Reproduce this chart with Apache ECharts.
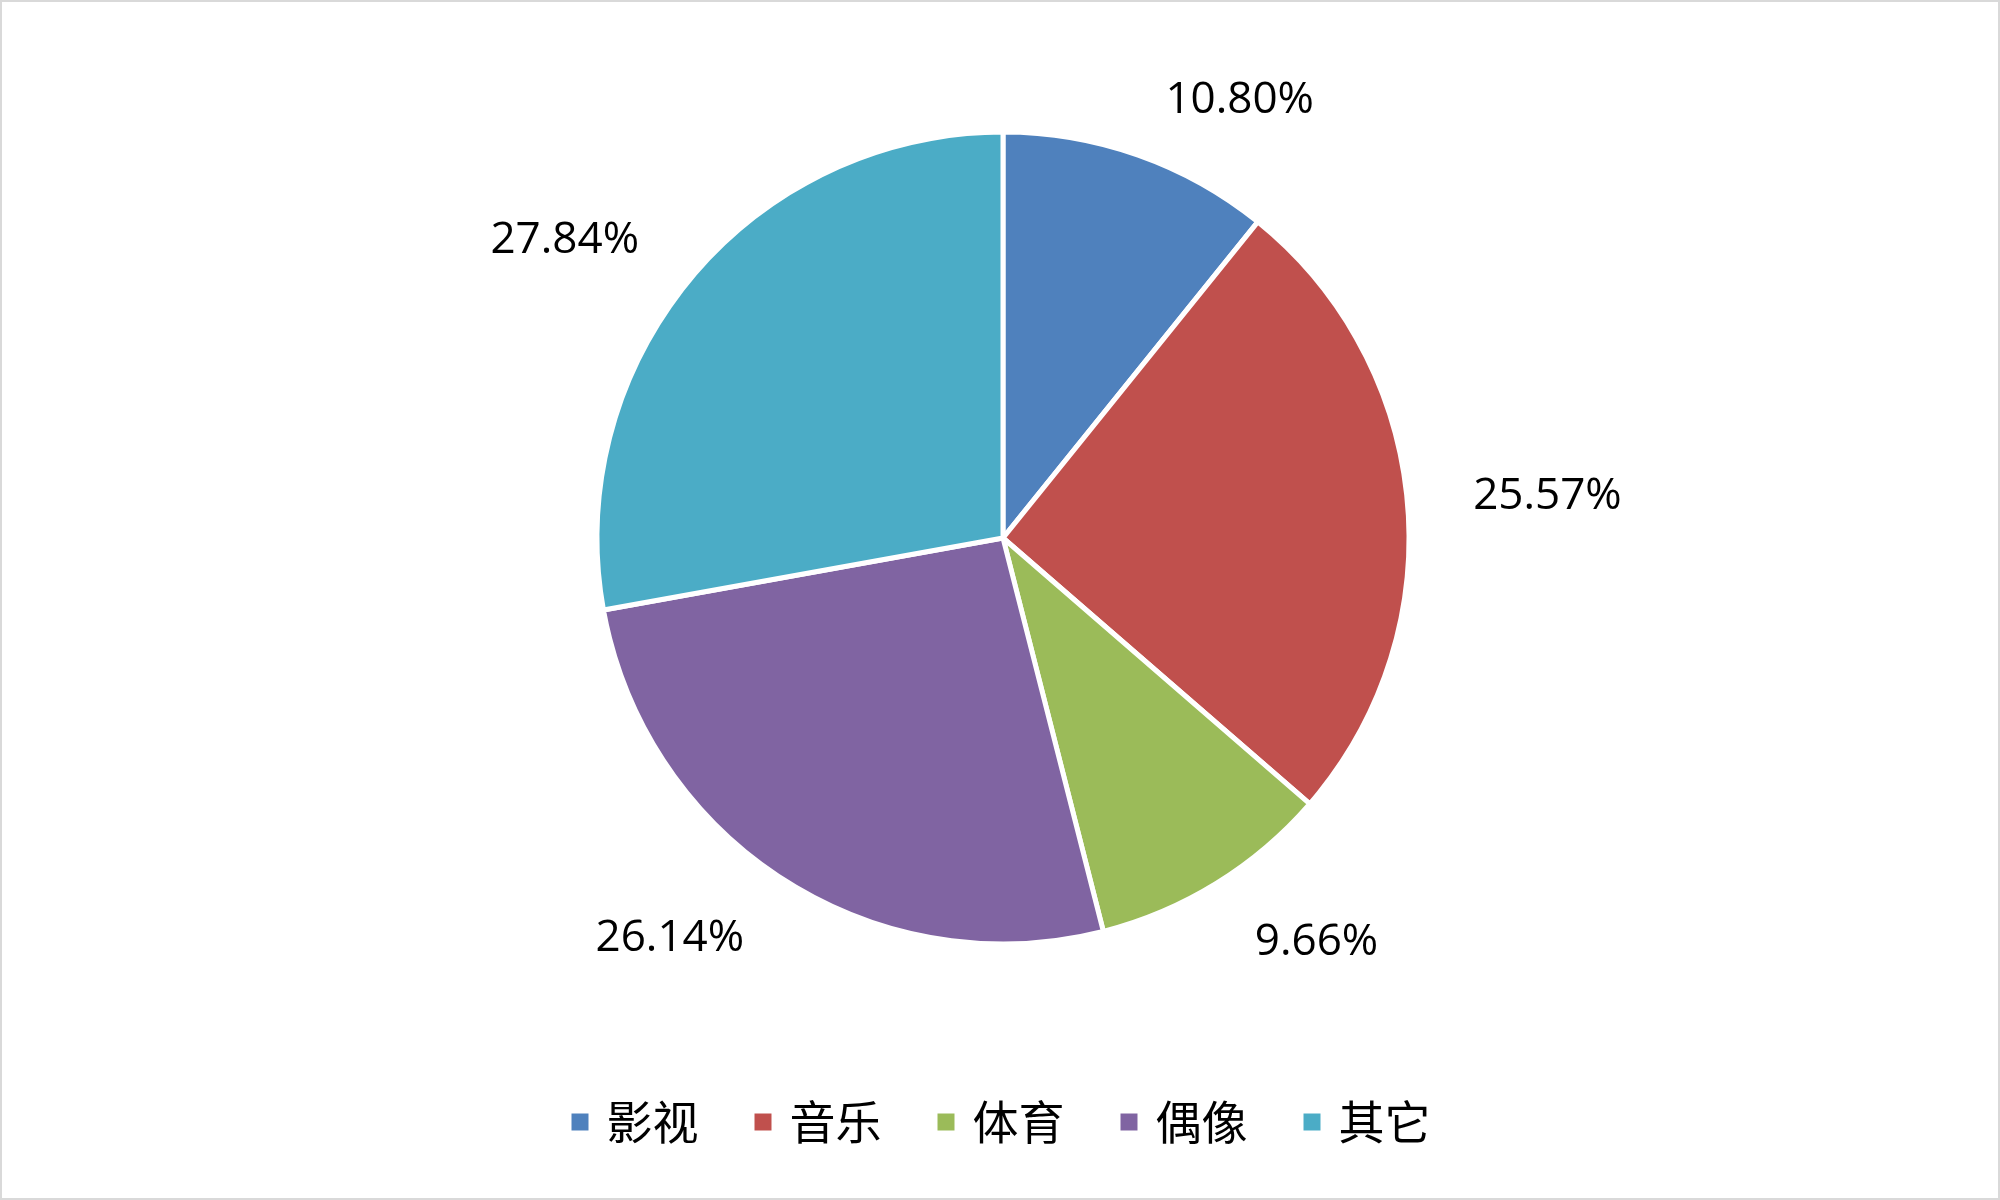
<!DOCTYPE html>
<html>
<head>
<meta charset="utf-8">
<script src="https://cdn.jsdelivr.net/npm/echarts@6/dist/echarts.min.js"></script>
<style>
  html, body { margin: 0; padding: 0; background: #fff; }
  #chart { width: 2000px; height: 1200px; box-sizing: border-box; border: 2px solid #d9d9d9; }
</style>
</head>
<body>
<div id="chart"></div>
<script>
// categories and shares (%)
const categories = ['影视', '音乐', '体育', '偶像', '其它'];
const shares = [10.80, 25.57, 9.66, 26.14, 27.84];
const colors = ['#4F81BD', '#C0504D', '#9BBB59', '#8064A2', '#4BACC6'];

window.onload = function() {
    let chart = echarts.init(document.getElementById('chart'));
    let data = categories.map((c, i) => ({
        name: c,
        value: shares[i],
        itemStyle: { color: colors[i] }
    }));

    let option = {
        animation: false,
        backgroundColor: '#fff',
        legend: {
            data: categories,
            left: 'center',
            top: 1092,
            icon: 'rect',
            itemWidth: 19,
            itemHeight: 19,
            itemGap: 54,
            textStyle: {
                fontFamily: 'Noto Sans CJK SC',
                fontSize: 46,
                color: '#000',
                padding: [0, 0, 0, 12]
            }
        },
        series: [{
            type: 'pie',
            center: [1001, 536],
            radius: 406,
            startAngle: 90,
            clockwise: true,
            avoidLabelOverlap: false,
            data: data,
            itemStyle: {
                borderColor: '#fff',
                borderWidth: 5
            },
            label: {
                show: true,
                position: 'outside',
                formatter: p => p.value.toFixed(2) + '%',
                fontFamily: 'Open Sans',
                fontSize: 44,
                color: '#000',
                distanceToLabelLine: 5
            },
            labelLine: {
                show: false,
                length: 58,
                length2: 3
            },
            // labels below the centre sit a little lower in the original
            labelLayout: p => (p.labelRect.y > 536 ? { dy: 10 } : {}),
            emphasis: { disabled: true }
        }]
    };
    chart.setOption(option);
};
</script>
</body>
</html>
